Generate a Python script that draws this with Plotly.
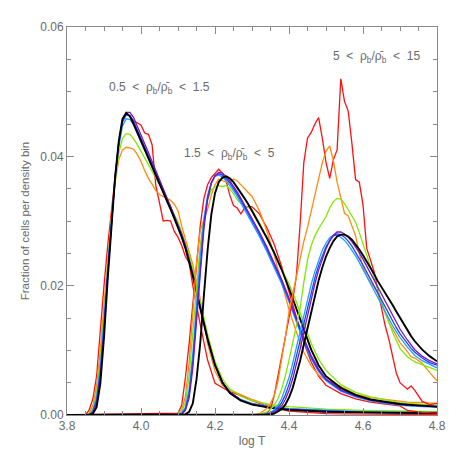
import plotly.graph_objects as go

# log T sample points for each density bin
logt_lo = [3.80, 3.85, 3.86, 3.87, 3.88, 3.89, 3.90, 3.91, 3.92, 3.93, 3.94, 3.95, 3.96, 3.97, 3.98,
           3.99, 4.00, 4.01, 4.02, 4.03, 4.04, 4.05, 4.06, 4.07, 4.08, 4.09, 4.10, 4.11, 4.12, 4.13,
           4.14, 4.16, 4.18, 4.20, 4.22, 4.24, 4.27, 4.30, 4.35, 4.40, 4.50, 4.60, 4.70, 4.80]
logt_mid = [3.80, 4.10, 4.11, 4.12, 4.13, 4.14, 4.15, 4.16, 4.17, 4.18, 4.19, 4.20, 4.21, 4.22,
            4.23, 4.24, 4.25, 4.26, 4.27, 4.28, 4.29, 4.30, 4.32, 4.34, 4.36, 4.38, 4.40, 4.42,
            4.44, 4.46, 4.48, 4.50, 4.54, 4.58, 4.62, 4.66, 4.70, 4.72, 4.76, 4.80]
logt_hi = [3.80, 4.30, 4.32, 4.34, 4.35, 4.36, 4.37, 4.38, 4.39, 4.40, 4.41, 4.42, 4.43, 4.44,
           4.45, 4.46, 4.47, 4.48, 4.49, 4.50, 4.51, 4.52, 4.53, 4.54, 4.55, 4.56, 4.57, 4.58,
           4.59, 4.60, 4.61, 4.62, 4.63, 4.64, 4.65, 4.66, 4.67, 4.68, 4.69, 4.70, 4.72, 4.73,
           4.74, 4.76, 4.78, 4.80]

# fraction of cells per density bin, 0.5 < rho/rhobar < 1.5
frac_lo = {
    "red": [0, 0, 0.0008, 0.0025, 0.0060, 0.0135, 0.0200, 0.0262, 0.0312, 0.0370, 0.0420, 0.0455,
            0.0467, 0.0462, 0.0455, 0.0452, 0.0448, 0.0436, 0.0434, 0.0418, 0.0355, 0.0328, 0.0300,
            0.0301, 0.0300, 0.0284, 0.0275, 0.0262, 0.0245, 0.0236, 0.0200, 0.0140, 0.0085, 0.0049,
            0.0042, 0.0036, 0.0030, 0.0022, 0.0012, 0.0006, 0.0002, 0.0001, 0.0001, 0.0001],
    "orange": [0, 0, 0.0003, 0.0015, 0.0045, 0.0100, 0.0170, 0.0240, 0.0305, 0.0360, 0.0395, 0.0410,
               0.0414, 0.0413, 0.0411, 0.0403, 0.0392, 0.0378, 0.0366, 0.0357, 0.0347, 0.0341, 0.0338,
               0.0334, 0.0332, 0.0326, 0.0316, 0.0292, 0.0272, 0.0253, 0.0233, 0.0180, 0.0110, 0.0068,
               0.0046, 0.0039, 0.0031, 0.0024, 0.0014, 0.0010, 0.0006, 0.0004, 0.0003, 0.0003],
    "green": [0, 0, 0.0002, 0.0010, 0.0035, 0.0085, 0.0155, 0.0230, 0.0300, 0.0360, 0.0405, 0.0428,
              0.0435, 0.0434, 0.0427, 0.0418, 0.0408, 0.0398, 0.0388, 0.0378, 0.0368, 0.0357, 0.0346,
              0.0334, 0.0322, 0.0310, 0.0298, 0.0283, 0.0267, 0.0248, 0.0226, 0.0175, 0.0125, 0.0083,
              0.0056, 0.0040, 0.0029, 0.0022, 0.0016, 0.0013, 0.0009, 0.0007, 0.0006, 0.0005],
    "sky": [0, 0, 0.0001, 0.0007, 0.0028, 0.0075, 0.0145, 0.0225, 0.0300, 0.0365, 0.0415, 0.0447,
            0.0458, 0.0457, 0.0449, 0.0437, 0.0424, 0.0411, 0.0398, 0.0385, 0.0372, 0.0359, 0.0346,
            0.0333, 0.0320, 0.0306, 0.0292, 0.0277, 0.0260, 0.0240, 0.0217, 0.0166, 0.0117, 0.0077,
            0.0051, 0.0035, 0.0024, 0.0018, 0.0013, 0.0010, 0.0007, 0.0005, 0.0004, 0.0004],
    "blue": [0, 0, 0, 0.0005, 0.0022, 0.0065, 0.0135, 0.0220, 0.0300, 0.0367, 0.0420, 0.0453,
             0.0464, 0.0463, 0.0454, 0.0441, 0.0428, 0.0415, 0.0401, 0.0388, 0.0375, 0.0362, 0.0348,
             0.0335, 0.0322, 0.0308, 0.0293, 0.0278, 0.0261, 0.0240, 0.0217, 0.0166, 0.0117, 0.0077,
             0.0051, 0.0035, 0.0023, 0.0017, 0.0012, 0.0009, 0.0006, 0.0004, 0.0003, 0.0003],
    "purple": [0, 0, 0, 0.0004, 0.0018, 0.0058, 0.0128, 0.0215, 0.0298, 0.0368, 0.0422, 0.0456,
               0.0468, 0.0468, 0.0460, 0.0447, 0.0434, 0.0420, 0.0406, 0.0392, 0.0378, 0.0365, 0.0351,
               0.0337, 0.0324, 0.0310, 0.0295, 0.0280, 0.0263, 0.0242, 0.0219, 0.0168, 0.0119, 0.0078,
               0.0051, 0.0035, 0.0023, 0.0017, 0.0011, 0.0008, 0.0005, 0.0004, 0.0003, 0.0003],
    "black": [0, 0, 0, 0.0002, 0.0012, 0.0048, 0.0120, 0.0210, 0.0295, 0.0368, 0.0424, 0.0458,
              0.0467, 0.0462, 0.0450, 0.0437, 0.0424, 0.0411, 0.0397, 0.0384, 0.0370, 0.0357, 0.0344,
              0.0331, 0.0318, 0.0304, 0.0290, 0.0275, 0.0258, 0.0238, 0.0215, 0.0165, 0.0117, 0.0077,
              0.0050, 0.0034, 0.0022, 0.0016, 0.0011, 0.0008, 0.0005, 0.0004, 0.0003, 0.0003],
}

# 1.5 < rho/rhobar < 5
frac_mid = {
    "red": [0, 0.0003, 0.0015, 0.0058, 0.0110, 0.0172, 0.0235, 0.0292, 0.0335, 0.0356, 0.0367,
            0.0374, 0.0380, 0.0374, 0.0362, 0.0340, 0.0324, 0.0320, 0.0311, 0.0320, 0.0323, 0.0322,
            0.0311, 0.0290, 0.0264, 0.0230, 0.0192, 0.0150, 0.0112, 0.0082, 0.0060, 0.0046, 0.0033,
            0.0025, 0.0020, 0.0017, 0.0014, 0.0007, 0.0004, 0.0003],
    "orange": [0, 0, 0.0008, 0.0028, 0.0080, 0.0160, 0.0235, 0.0285, 0.0300, 0.0318, 0.0340,
               0.0356, 0.0365, 0.0363, 0.0360, 0.0360, 0.0365, 0.0362, 0.0356, 0.0350, 0.0345, 0.0338,
               0.0316, 0.0285, 0.0247, 0.0207, 0.0163, 0.0128, 0.0097, 0.0076, 0.0062, 0.0054, 0.0044,
               0.0032, 0.0027, 0.0024, 0.0021, 0.0020, 0.0019, 0.0018],
    "green": [0, 0, 0.0005, 0.0020, 0.0060, 0.0125, 0.0200, 0.0262, 0.0305, 0.0333, 0.0348,
              0.0353, 0.0355, 0.0353, 0.0355, 0.0350, 0.0342, 0.0333, 0.0327, 0.0323, 0.0321, 0.0318,
              0.0297, 0.0273, 0.0248, 0.0226, 0.0203, 0.0175, 0.0142, 0.0111, 0.0086, 0.0069, 0.0047,
              0.0035, 0.0028, 0.0023, 0.0019, 0.0018, 0.0016, 0.0015],
    "sky": [0, 0, 0.0003, 0.0012, 0.0040, 0.0095, 0.0170, 0.0245, 0.0303, 0.0340, 0.0360,
            0.0369, 0.0371, 0.0368, 0.0362, 0.0355, 0.0347, 0.0338, 0.0328, 0.0318, 0.0308, 0.0298,
            0.0276, 0.0253, 0.0229, 0.0203, 0.0175, 0.0144, 0.0113, 0.0087, 0.0067, 0.0053, 0.0037,
            0.0028, 0.0022, 0.0018, 0.0015, 0.0014, 0.0013, 0.0012],
    "blue": [0, 0, 0.0002, 0.0009, 0.0032, 0.0082, 0.0155, 0.0232, 0.0295, 0.0336, 0.0359,
             0.0370, 0.0373, 0.0371, 0.0366, 0.0359, 0.0351, 0.0342, 0.0332, 0.0322, 0.0312, 0.0302,
             0.0280, 0.0257, 0.0233, 0.0207, 0.0178, 0.0147, 0.0116, 0.0089, 0.0069, 0.0055, 0.0038,
             0.0029, 0.0023, 0.0019, 0.0016, 0.0015, 0.0014, 0.0013],
    "purple": [0, 0, 0.0001, 0.0007, 0.0026, 0.0072, 0.0143, 0.0222, 0.0288, 0.0333, 0.0358,
               0.0370, 0.0375, 0.0374, 0.0369, 0.0362, 0.0354, 0.0345, 0.0335, 0.0325, 0.0315, 0.0305,
               0.0283, 0.0260, 0.0236, 0.0210, 0.0181, 0.0150, 0.0119, 0.0092, 0.0071, 0.0056, 0.0039,
               0.0030, 0.0024, 0.0020, 0.0017, 0.0016, 0.0014, 0.0013],
    "black": [0, 0, 0, 0.0001, 0.0005, 0.0018, 0.0055, 0.0110, 0.0185, 0.0255, 0.0310,
              0.0343, 0.0360, 0.0367, 0.0369, 0.0366, 0.0360, 0.0352, 0.0344, 0.0335, 0.0326, 0.0316,
              0.0296, 0.0274, 0.0251, 0.0225, 0.0196, 0.0165, 0.0132, 0.0101, 0.0077, 0.0060, 0.0042,
              0.0031, 0.0024, 0.0020, 0.0017, 0.0016, 0.0014, 0.0013],
}

# 5 < rho/rhobar < 15
frac_hi = {
    "red": [0, 0, 0, 0.0003, 0.0009, 0.0030, 0.0060, 0.0095, 0.0125, 0.0150, 0.0178, 0.0215,
            0.0295, 0.0390, 0.0428, 0.0437, 0.0450, 0.0460, 0.0428, 0.0391, 0.0366, 0.0395, 0.0410,
            0.0520, 0.0485, 0.0470, 0.0420, 0.0364, 0.0360, 0.0325, 0.0258, 0.0240, 0.0222, 0.0193,
            0.0165, 0.0138, 0.0117, 0.0090, 0.0065, 0.0050, 0.0040, 0.0045, 0.0038, 0.0021, 0.0016,
            0.0018],
    "orange": [0, 0, 0.0002, 0.0010, 0.0018, 0.0030, 0.0052, 0.0085, 0.0120, 0.0160, 0.0188, 0.0215,
               0.0240, 0.0268, 0.0290, 0.0315, 0.0338, 0.0362, 0.0390, 0.0408, 0.0416, 0.0393, 0.0360,
               0.0336, 0.0312, 0.0308, 0.0292, 0.0277, 0.0250, 0.0228, 0.0215, 0.0205, 0.0198, 0.0188,
               0.0173, 0.0158, 0.0143, 0.0133, 0.0122, 0.0112, 0.0098, 0.0090, 0.0088, 0.0080, 0.0066,
               0.0053],
    "green": [0, 0, 0.0001, 0.0005, 0.0009, 0.0015, 0.0025, 0.0040, 0.0060, 0.0085, 0.0110, 0.0135,
              0.0165, 0.0205, 0.0240, 0.0262, 0.0277, 0.0288, 0.0297, 0.0307, 0.0320, 0.0330, 0.0335,
              0.0334, 0.0327, 0.0318, 0.0308, 0.0298, 0.0282, 0.0265, 0.0248, 0.0230, 0.0212, 0.0195,
              0.0175, 0.0158, 0.0143, 0.0128, 0.0114, 0.0103, 0.0090, 0.0086, 0.0082, 0.0078, 0.0073,
              0.0069],
    "sky": [0, 0, 0, 0.0002, 0.0004, 0.0008, 0.0015, 0.0025, 0.0040, 0.0058, 0.0080, 0.0104,
            0.0130, 0.0155, 0.0180, 0.0202, 0.0222, 0.0240, 0.0255, 0.0266, 0.0274, 0.0278, 0.0278,
            0.0275, 0.0270, 0.0263, 0.0255, 0.0246, 0.0236, 0.0225, 0.0214, 0.0203, 0.0192, 0.0180,
            0.0169, 0.0158, 0.0148, 0.0138, 0.0129, 0.0120, 0.0105, 0.0098, 0.0092, 0.0084, 0.0078,
            0.0073],
    "blue": [0, 0, 0, 0.0001, 0.0003, 0.0006, 0.0011, 0.0019, 0.0031, 0.0047, 0.0067, 0.0090,
             0.0115, 0.0141, 0.0166, 0.0190, 0.0212, 0.0231, 0.0247, 0.0260, 0.0270, 0.0277, 0.0280,
             0.0279, 0.0275, 0.0269, 0.0261, 0.0252, 0.0242, 0.0232, 0.0221, 0.0210, 0.0199, 0.0188,
             0.0177, 0.0166, 0.0155, 0.0145, 0.0135, 0.0126, 0.0110, 0.0103, 0.0097, 0.0088, 0.0081,
             0.0077],
    "purple": [0, 0, 0, 0.0001, 0.0002, 0.0004, 0.0008, 0.0014, 0.0024, 0.0038, 0.0056, 0.0078,
               0.0102, 0.0128, 0.0154, 0.0179, 0.0203, 0.0224, 0.0242, 0.0257, 0.0269, 0.0278, 0.0283,
               0.0283, 0.0280, 0.0275, 0.0268, 0.0260, 0.0251, 0.0241, 0.0230, 0.0219, 0.0208, 0.0197,
               0.0186, 0.0175, 0.0164, 0.0153, 0.0143, 0.0133, 0.0116, 0.0108, 0.0101, 0.0091, 0.0084,
               0.0079],
    "black": [0, 0, 0, 0, 0.0001, 0.0002, 0.0005, 0.0009, 0.0016, 0.0027, 0.0042, 0.0061,
              0.0084, 0.0109, 0.0135, 0.0161, 0.0186, 0.0208, 0.0228, 0.0245, 0.0258, 0.0269, 0.0276,
              0.0279, 0.0279, 0.0276, 0.0271, 0.0264, 0.0256, 0.0247, 0.0238, 0.0228, 0.0218, 0.0207,
              0.0198, 0.0190, 0.0180, 0.0170, 0.0160, 0.0150, 0.0131, 0.0122, 0.0114, 0.0101, 0.0091,
              0.0083],
}

sp = "\u00a0"
bin_labels = [
    f"0.5{sp}{sp}&lt;{sp}{sp}ρ<sub>b</sub>/ρ̄<sub>b</sub>{sp}{sp}&lt;{sp}{sp}1.5",
    f"1.5{sp}{sp}&lt;{sp}{sp}ρ<sub>b</sub>/ρ̄<sub>b</sub>{sp}{sp}&lt;{sp}{sp}5",
    f"5{sp}{sp}&lt;{sp}{sp}ρ<sub>b</sub>/ρ̄<sub>b</sub>{sp}{sp}&lt;{sp}{sp}15",
]
label_x = [4.05, 4.24, 4.636]
label_y = [0.0505, 0.0403, 0.0554]

colors = {
    "red": "#ff1010",
    "orange": "#ff8a10",
    "green": "#80e800",
    "sky": "#20a0ff",
    "blue": "#2040ff",
    "purple": "#7818c0",
    "black": "#000000",
}
grey = "#6a6a6a"
axis_grey = "#8a8a8a"

fig = go.Figure()
for xs, group in [(logt_lo, frac_lo), (logt_mid, frac_mid), (logt_hi, frac_hi)]:
    for name, ys in group.items():
        if len(ys) != len(xs):
            raise ValueError(f"{name}: {len(ys)} values for {len(xs)} points")
        fig.add_trace(go.Scatter(
            x=xs, y=ys, mode="lines",
            line=dict(color=colors[name], width=1.9 if name == "black" else 1.3),
            hoverinfo="skip",
        ))

for txt, x, y in zip(bin_labels, label_x, label_y):
    fig.add_annotation(x=x, y=y, xref="x", yref="y", text=txt, showarrow=False,
                       font=dict(size=12, color=grey))

axis_style = dict(
    showline=True, linecolor=axis_grey, linewidth=1, mirror="allticks",
    ticks="inside", ticklen=7, tickcolor=axis_grey, tickwidth=1,
    showgrid=False, zeroline=False,
)
fig.update_xaxes(
    range=[3.8, 4.8], tick0=3.8, dtick=0.2, tickformat=".1f",
    minor=dict(dtick=0.05, ticks="inside", ticklen=4, tickcolor=axis_grey),
    title=dict(text="log T", font=dict(size=12, color=grey), standoff=4),
    **axis_style,
)
fig.update_yaxes(
    range=[0, 0.06], tick0=0, dtick=0.02, tickformat=".2f",
    minor=dict(dtick=0.005, ticks="inside", ticklen=4, tickcolor=axis_grey),
    title=dict(text="Fraction of cells per density bin", font=dict(size=11.5, color=grey),
               standoff=8),
    **axis_style,
)
# the page body adds an 8px offset, so the figure is 8px smaller and shifted margins
fig.update_layout(
    width=450, height=450,
    margin=dict(l=59, r=20, t=13, b=42),
    plot_bgcolor="white", paper_bgcolor="white",
    showlegend=False,
    font=dict(family="Liberation Sans, DejaVu Sans, sans-serif", size=12, color=grey),
)

fig.write_html("out.html")
